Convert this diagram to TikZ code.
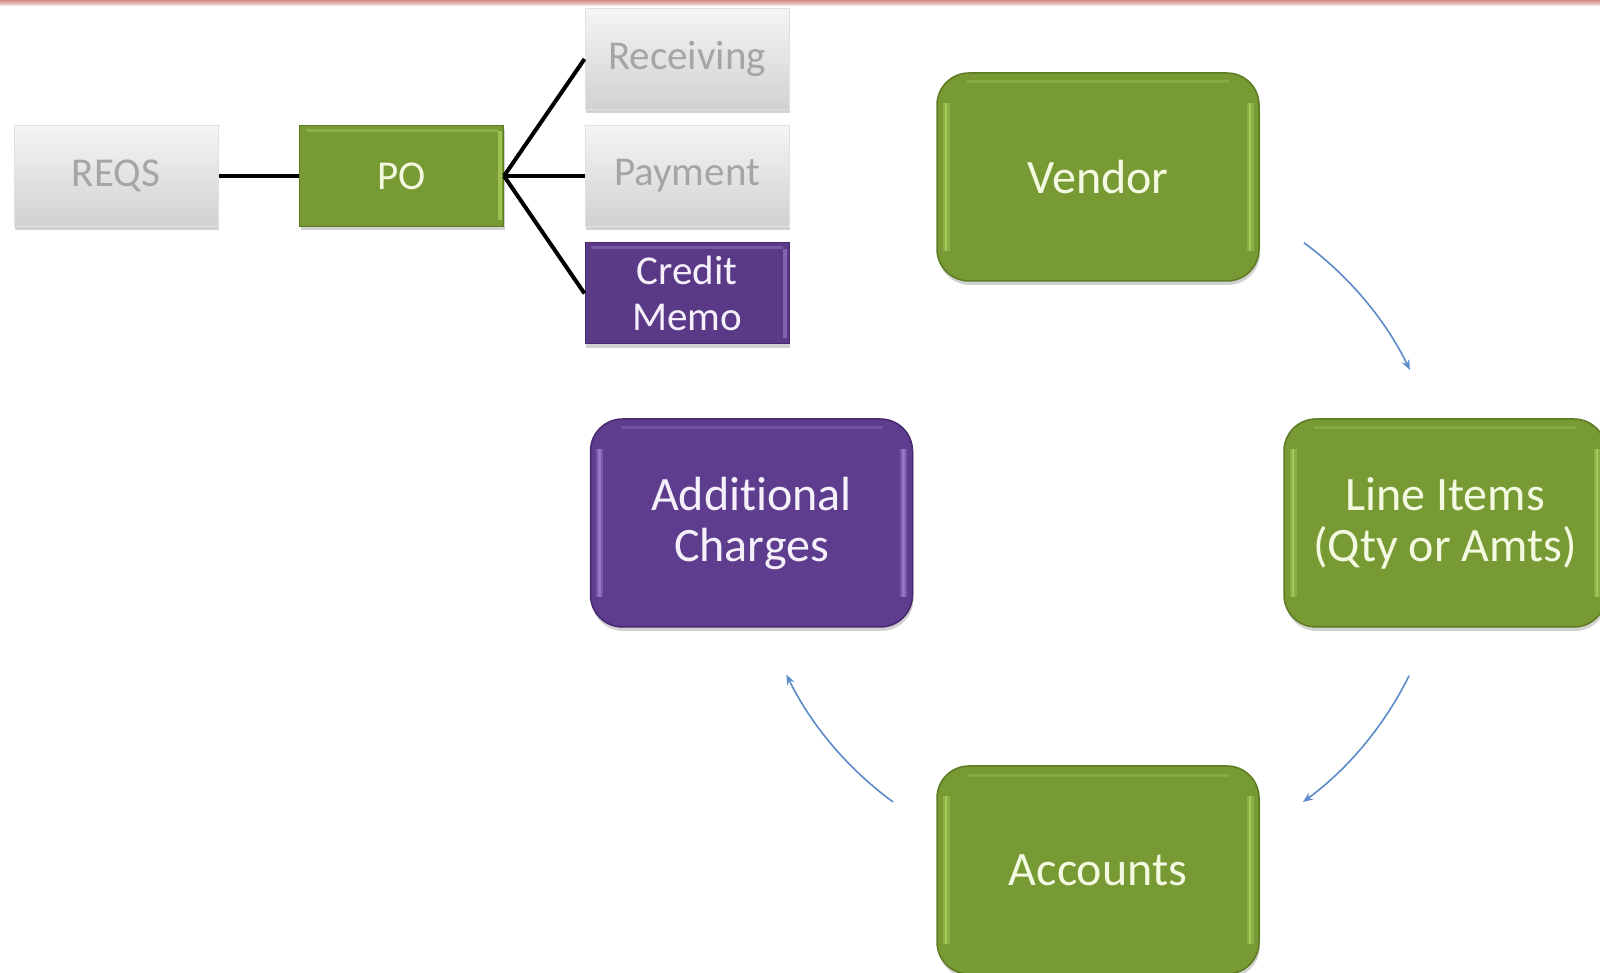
\documentclass[tikz,border=0pt]{standalone}
\usepackage{fontspec}
\setmainfont{Carlito}[Ligatures=NoCommon]
\usetikzlibrary{shadows,arrows.meta,calc}
\definecolor{grn}{HTML}{789A34}
\definecolor{grnedge}{HTML}{5C7A22}
\definecolor{grnlight}{HTML}{B6DA66}
\definecolor{grntext}{HTML}{F4FAE2}
\definecolor{pur}{HTML}{5F3D8E}
\definecolor{puredge}{HTML}{46296E}
\definecolor{purlight}{HTML}{A98ED6}
\definecolor{purtext}{HTML}{F6F0FB}
\definecolor{graytext}{HTML}{A5A5A5}
\definecolor{arrowblue}{HTML}{5B8BC9}
\definecolor{topband}{HTML}{D48C8A}
\tikzset{
  every node/.style={inner sep=0pt, align=center},
  bigfont/.style={font=\fontsize{48}{51}\selectfont},
  smallfont/.style={font=\fontsize{41}{46}\selectfont},
  softshadow/.style={drop shadow={shadow xshift=1pt, shadow yshift=-4pt, opacity=0.22, fill=black!80}},
  vglow/.style={line width=7pt, opacity=0.35},
  vline/.style={line width=2.5pt, opacity=0.6},
  bigbox/.style={bigfont, minimum width=322pt, minimum height=208pt, rounded corners=32pt, line width=1.5pt, softshadow},
  greenbig/.style={bigbox, fill=grn, draw=grnedge, text=grntext,
    path picture={
      \foreach \st in {vglow,vline}{
      \draw[grnlight, \st]
        ([shift={(9pt,30pt)}]path picture bounding box.south west) -- ([shift={(9pt,-30pt)}]path picture bounding box.north west);
      \draw[grnlight, \st]
        ([shift={(-9pt,30pt)}]path picture bounding box.south east) -- ([shift={(-9pt,-30pt)}]path picture bounding box.north east);}
      \draw[grnlight, line width=3pt, opacity=0.25]
        ([shift={(30pt,-9pt)}]path picture bounding box.north west) -- ([shift={(-30pt,-9pt)}]path picture bounding box.north east);
    }},
  purplebig/.style={bigbox, fill=pur, draw=puredge, text=purtext,
    path picture={
      \foreach \st in {vglow,vline}{
      \draw[purlight, \st]
        ([shift={(9pt,30pt)}]path picture bounding box.south west) -- ([shift={(9pt,-30pt)}]path picture bounding box.north west);
      \draw[purlight, \st]
        ([shift={(-9pt,30pt)}]path picture bounding box.south east) -- ([shift={(-9pt,-30pt)}]path picture bounding box.north east);}
      \draw[purlight, line width=3pt, opacity=0.25]
        ([shift={(30pt,-9pt)}]path picture bounding box.north west) -- ([shift={(-30pt,-9pt)}]path picture bounding box.north east);
    }},
  smallbox/.style={smallfont, minimum width=204pt, minimum height=101pt, line width=1pt, softshadow},
  graybox/.style={smallbox, top color=white!96!black, bottom color=white!82!black, draw=white!88!black, text=graytext},
  greensmall/.style={smallbox, fill=grn, draw=grnedge, text=grntext,
    path picture={
      \draw[grnlight, line width=4pt, opacity=0.6]
        ([shift={(-4pt,6pt)}]path picture bounding box.south east) -- ([shift={(-4pt,-6pt)}]path picture bounding box.north east);
      \draw[grnlight, line width=3pt, opacity=0.35]
        ([shift={(6pt,-5pt)}]path picture bounding box.north west) -- ([shift={(-6pt,-5pt)}]path picture bounding box.north east);
    }},
  purplesmall/.style={smallbox, fill=pur!95!black, draw=puredge, text=purtext,
    path picture={
      \draw[purlight, line width=4pt, opacity=0.5]
        ([shift={(-4pt,6pt)}]path picture bounding box.south east) -- ([shift={(-4pt,-6pt)}]path picture bounding box.north east);
      \draw[purlight, line width=3pt, opacity=0.35]
        ([shift={(6pt,-5pt)}]path picture bounding box.north west) -- ([shift={(-6pt,-5pt)}]path picture bounding box.north east);
    }},
  link/.style={black, line width=4pt},
  cycle arrow/.style={arrowblue, line width=1.6pt, -{Stealth[length=10pt,width=8pt]}}
}
\begin{document}
\begin{tikzpicture}[x=1pt,y=1pt]
\clip (0,0) rectangle (1600,972);
\fill[white] (0,0) rectangle (1600,972);
% top band
\shade[top color=topband, bottom color=topband!15!white] (0,966) rectangle (1600,972);

% process chain
\node[graybox] (reqs) at (116,796) {REQS};
\node[greensmall] (po) at (401.5,796) {PO};
\node[graybox] (recv) at (687,913) {Receiving};
\node[graybox] (pay) at (687,796) {Payment};
\node[purplesmall] (cm) at (687,678.5) {Credit\\Memo};

\draw[link] (reqs.east) -- (po.west);
\draw[link] (po.east) -- (recv.west);
\draw[link] (po.east) -- (pay.west);
\draw[link] (po.east) -- (cm.west);

% cycle
\coordinate (ctr) at (1098,450);
\node[greenbig] (vendor) at (1098,795) {Vendor};
\node[greenbig] (items) at (1445,449) {Line Items\\(Qty or Amts)};
\node[greenbig] (accounts) at (1098,102) {Accounts};
\node[purplebig] (addl) at (751.5,449) {Additional\\Charges};

\coordinate (a1) at ($(ctr)+(53.6:347)$);
\coordinate (a2) at ($(ctr)+(-26.3:347)$);
\coordinate (a3) at ($(ctr)+(-126.2:347)$);
\draw[cycle arrow] (a1) arc[start angle=53.6, end angle=26.0, radius=347];
\draw[cycle arrow] (a2) arc[start angle=-26.3, end angle=-53.8, radius=347];
\draw[cycle arrow] (a3) arc[start angle=-126.2, end angle=-153.9, radius=347];
\end{tikzpicture}
\end{document}
